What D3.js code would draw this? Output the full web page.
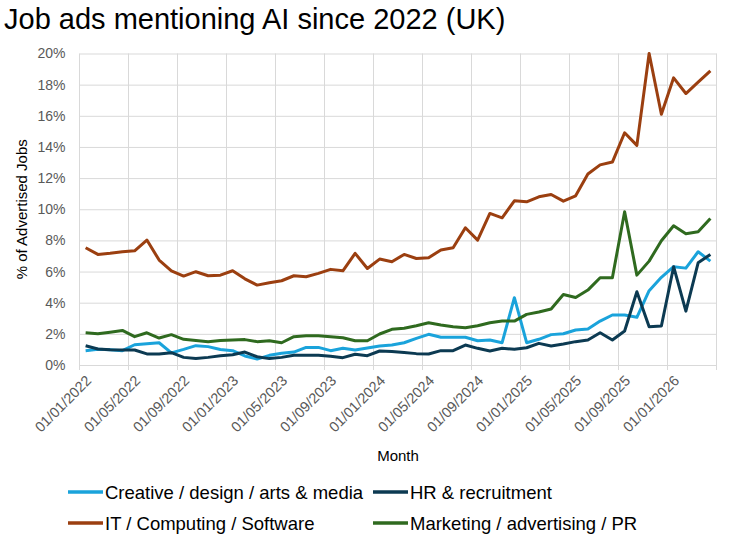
<!DOCTYPE html>
<html lang="en">
<head>
    <meta charset="UTF-8">
    <title>Job ads mentioning AI since 2022 (UK)</title>
    <script src="https://d3js.org/d3.v7.min.js"></script>
    <style>
        * {
            margin: 0;
            padding: 0;
        }
        body {
            background-color: white;
            font-family: Arial, "Liberation Sans", sans-serif;
        }
        .grid line {
            stroke: #d9d9d9;
            stroke-width: 1;
        }
        .tick text {
            fill: #595959;
        }
    </style>
</head>
<body>
<svg id="chart" width="731" height="543"></svg>
<script>
// months Jan 2022 .. Apr 2026 (monthly)
const months = d3.timeMonth.range(new Date(2022, 0, 1), new Date(2026, 4, 1));

const seriesNames = [
    'Creative / design / arts & media',
    'HR & recruitment',
    'IT / Computing / Software',
    'Marketing / advertising / PR'
];

const seriesColors = ['#1aa3db', '#0c3a52', '#9b3f10', '#2f6a1f'];

// % of advertised jobs
const creative = [
    0.92, 1.01, 0.98, 0.92, 1.30, 1.37, 1.43, 0.78, 1.00, 1.24, 1.18, 0.99,
    0.92, 0.58, 0.38, 0.62, 0.75, 0.83, 1.13, 1.13, 0.92, 1.07, 0.96, 1.09,
    1.22, 1.28, 1.43, 1.71, 1.97, 1.78, 1.78, 1.78, 1.56, 1.60, 1.43, 4.32,
    1.43, 1.65, 1.95, 2.01, 2.25, 2.31, 2.82, 3.21, 3.21, 3.06, 4.77, 5.63,
    6.31, 6.22, 7.27, 6.67
];
const hr = [
    1.24, 1.03, 0.98, 0.96, 0.96, 0.71, 0.71, 0.79, 0.49, 0.41, 0.49, 0.60,
    0.66, 0.83, 0.53, 0.41, 0.49, 0.62, 0.62, 0.62, 0.56, 0.47, 0.69, 0.60,
    0.90, 0.86, 0.80, 0.73, 0.71, 0.92, 0.92, 1.28, 1.07, 0.90, 1.07, 1.01,
    1.11, 1.39, 1.22, 1.35, 1.50, 1.60, 2.07, 1.60, 2.18, 4.70, 2.46, 2.50,
    6.31, 3.46, 6.56, 7.10
];
const it = [
    7.53, 7.10, 7.17, 7.27, 7.33, 8.02, 6.74, 6.05, 5.71, 5.99, 5.73, 5.77,
    6.05, 5.53, 5.13, 5.28, 5.41, 5.73, 5.67, 5.88, 6.14, 6.05, 7.17, 6.20,
    6.80, 6.63, 7.10, 6.84, 6.89, 7.38, 7.53, 8.81, 8.02, 9.73, 9.45, 10.54,
    10.48, 10.80, 10.95, 10.52, 10.86, 12.26, 12.85, 13.03, 14.91, 14.10, 20.00, 16.10,
    18.44, 17.43, 18.16, 18.89
];
const marketing = [
    2.07, 2.01, 2.11, 2.22, 1.82, 2.07, 1.73, 1.95, 1.65, 1.58, 1.50, 1.58,
    1.60, 1.63, 1.50, 1.56, 1.43, 1.82, 1.88, 1.88, 1.82, 1.75, 1.56, 1.56,
    1.99, 2.29, 2.36, 2.52, 2.71, 2.57, 2.46, 2.39, 2.52, 2.71, 2.82, 2.82,
    3.25, 3.40, 3.60, 4.53, 4.33, 4.81, 5.60, 5.60, 9.84, 5.77, 6.67, 7.98,
    8.94, 8.43, 8.55, 9.41
];

const yTicks = [0, 2, 4, 6, 8, 10, 12, 14, 16, 18, 20];

const allSeries = [creative, hr, it, marketing];

const svg = d3.select('#chart');
const plotLeft = 79.5, plotRight = 716.5, plotTop = 53.5, plotBottom = 365;

const x = d3.scaleBand()
    .domain(months)
    .range([plotLeft, plotRight])
    .padding(0);

const y = d3.scaleLinear()
    .domain([0, 20])
    .range([plotBottom, plotTop]);

// title
svg.append('text')
    .attr('x', 4)
    .attr('y', 29)
    .style('font-size', '29px')
    .style('fill', '#000')
    .text('Job ads mentioning AI since 2022 (UK)');

// horizontal gridlines + y labels
const yAxis = svg.append('g')
    .attr('class', 'grid')
    .attr('transform', `translate(${plotLeft},0)`)
    .call(d3.axisLeft(y)
        .tickValues(yTicks)
        .tickSize(-(plotRight - plotLeft))
        .tickPadding(14)
        .tickFormat(d => d + '%'));
yAxis.select('.domain').remove();
yAxis.selectAll('text').style('font-size', '14px');

// vertical gridlines every 4 months
const tickMonths = months.filter((d, i) => i % 4 === 0);
svg.append('g')
    .attr('class', 'grid')
    .selectAll('line')
    .data(tickMonths.map(d => x(d)).concat([plotRight]))
    .join('line')
    .attr('x1', d => d)
    .attr('x2', d => d)
    .attr('y1', plotTop)
    .attr('y2', plotBottom + 5);

// x axis labels
const fmt = d3.timeFormat('%d/%m/%Y');
const xAxis = svg.append('g')
    .attr('transform', `translate(0,${plotBottom})`)
    .call(d3.axisBottom(x)
        .tickValues(tickMonths)
        .tickSize(0)
        .tickFormat(fmt));
xAxis.select('.domain').attr('stroke', '#d9d9d9');
xAxis.selectAll('text')
    .style('font-size', '14.5px')
    .style('text-anchor', 'end')
    .attr('x', 0)
    .attr('y', 0)
    .attr('dy', '0.35em')
    .attr('transform', 'translate(3,13) rotate(-45)');

// axis titles
svg.append('text')
    .attr('transform', `translate(27,${(plotTop + plotBottom) / 2}) rotate(-90)`)
    .attr('text-anchor', 'middle')
    .style('font-size', '15px')
    .style('fill', '#000')
    .text('% of Advertised Jobs');

svg.append('text')
    .attr('x', (plotLeft + plotRight) / 2)
    .attr('y', 461)
    .attr('text-anchor', 'middle')
    .style('font-size', '15px')
    .style('fill', '#000')
    .text('Month');

// lines
const line = d3.line()
    .x((d, i) => x(months[i]) + x.bandwidth() / 2)
    .y(d => y(d));

svg.append('g')
    .selectAll('path')
    .data(allSeries)
    .join('path')
    .attr('fill', 'none')
    .attr('stroke', (d, i) => seriesColors[i])
    .attr('stroke-width', 3)
    .attr('stroke-linejoin', 'round')
    .attr('d', line);

// legend
const legendPos = [[68, 492], [373, 492], [68, 523], [373, 523]];
const legend = svg.append('g')
    .selectAll('g')
    .data(seriesNames)
    .join('g')
    .attr('transform', (d, i) => `translate(${legendPos[i][0]},${legendPos[i][1]})`);

legend.append('line')
    .attr('x1', 0)
    .attr('x2', 35)
    .attr('stroke', (d, i) => seriesColors[i])
    .attr('stroke-width', 3.5);

legend.append('text')
    .attr('x', 37)
    .attr('dy', '0.36em')
    .style('font-size', '18.5px')
    .style('fill', '#000')
    .text(d => d);
</script>
</body>
</html>
